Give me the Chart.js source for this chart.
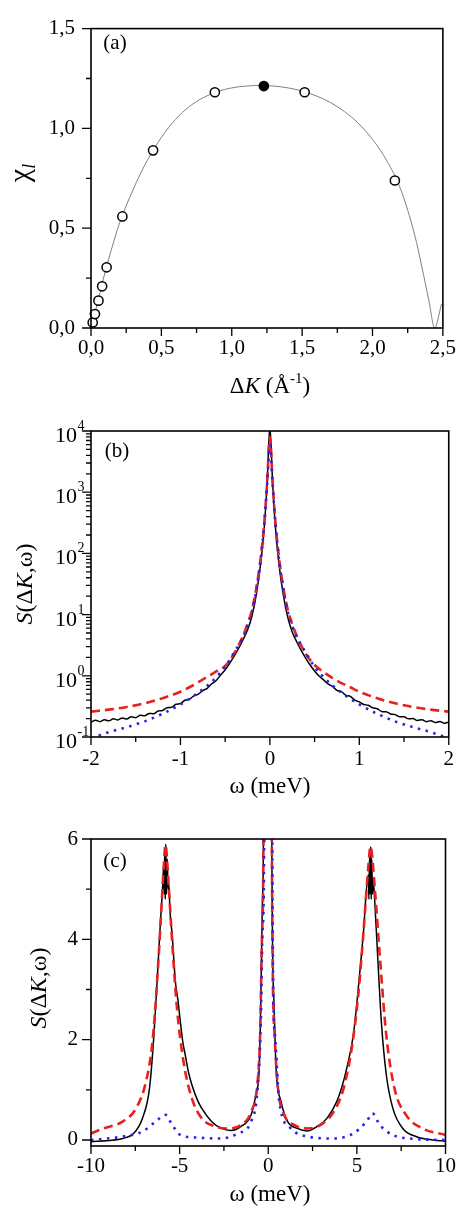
<!DOCTYPE html>
<html>
<head>
<meta charset="utf-8">
<script src="https://cdn.jsdelivr.net/npm/chart.js@4.4.1/dist/chart.umd.min.js"></script>
<style>
  html, body { margin: 0; padding: 0; background: #fff; }
  #wrap { position: relative; width: 464px; height: 1207px; overflow: hidden; }
  canvas { position: absolute; left: 0; }
</style>
</head>
<body>
<div id="wrap">
  <canvas id="chartA" width="464" height="405" style="top:0px"></canvas>
  <canvas id="chartB" width="464" height="400" style="top:405px"></canvas>
  <canvas id="chartC" width="464" height="402" style="top:805px"></canvas>
</div>
<script>
// ---- panel (a): chi_l vs delta K
const dkPoints = [0.012, 0.028, 0.053, 0.079, 0.111, 0.223, 0.441, 0.88, 1.518, 2.159];
const chiPoints = [0.028, 0.07, 0.137, 0.209, 0.304, 0.559, 0.89, 1.181, 1.181, 0.739];
const dkFilled = [1.228];
const chiFilled = [1.212];
const dkCurve = [0, 0.05, 0.1, 0.15, 0.2, 0.3, 0.4, 0.5, 0.6, 0.7, 0.8, 0.9, 1.0, 1.1, 1.2, 1.3, 1.4, 1.5, 1.6, 1.7, 1.8, 1.9, 2.0, 2.1, 2.2, 2.3, 2.4, 2.442, 2.49];
const chiCurve = [0, 0.135, 0.28, 0.405, 0.52, 0.695, 0.84, 0.955, 1.045, 1.11, 1.155, 1.185, 1.203, 1.212, 1.215, 1.212, 1.203, 1.187, 1.163, 1.13, 1.085, 1.025, 0.945, 0.84, 0.695, 0.465, 0.14, 0.0, 0.12];
const xTicksA = [0, 0.5, 1.0, 1.5, 2.0, 2.5];
const xMinorA = [0.25, 0.75, 1.25, 1.75, 2.25];
const yTicksA = [0, 0.5, 1.0, 1.5];
const yMinorA = [0.25, 0.75, 1.25];

// ---- panel (b): S(dK,w), log scale
const wBlackB = [-2.00,-1.95,-1.90,-1.85,-1.80,-1.75,-1.70,-1.65,-1.60,-1.55,-1.50,-1.45,-1.40,-1.35,-1.30,-1.25,-1.20,-1.15,-1.10,-1.05,-1.00,-0.95,-0.90,-0.85,-0.80,-0.75,-0.70,-0.65,-0.60,-0.55,-0.50,-0.45,-0.40,-0.35,-0.30,-0.25,-0.20,-0.15,-0.10,-0.06,-0.03,0,0.03,0.06,0.10,0.15,0.20,0.25,0.30,0.35,0.40,0.45,0.50,0.55,0.60,0.65,0.70,0.75,0.80,0.85,0.90,0.95,1.00,1.05,1.10,1.15,1.20,1.25,1.30,1.35,1.40,1.45,1.50,1.55,1.60,1.65,1.70,1.75,1.80,1.85,1.90,1.95,2.00];
const sBlackB = [0.175,0.188,0.178,0.192,0.184,0.198,0.190,0.205,0.196,0.214,0.207,0.226,0.222,0.243,0.240,0.266,0.272,0.300,0.305,0.343,0.352,0.398,0.415,0.470,0.500,0.575,0.625,0.740,0.840,1.03,1.25,1.60,2.10,2.80,3.90,5.60,9.5,22,75,300,1500,12000,1500,290,70,21,9,5.2,3.6,2.6,1.95,1.5,1.2,0.99,0.86,0.74,0.67,0.58,0.55,0.48,0.46,0.40,0.375,0.34,0.33,0.30,0.29,0.262,0.258,0.238,0.232,0.215,0.214,0.198,0.200,0.186,0.192,0.178,0.185,0.172,0.180,0.168,0.175];
const wFitB = [-2,-1.8,-1.6,-1.4,-1.2,-1.0,-0.9,-0.8,-0.7,-0.6,-0.5,-0.4,-0.3,-0.25,-0.2,-0.15,-0.1,-0.06,-0.03,0,0.03,0.06,0.1,0.15,0.2,0.25,0.3,0.4,0.5,0.6,0.7,0.8,0.9,1.0,1.2,1.4,1.6,1.8,2];
const sRedB = [0.26,0.28,0.31,0.355,0.43,0.55,0.65,0.79,0.96,1.18,1.45,2.3,4.5,7,12,28,90,350,1500,8000,1500,350,90,28,12,7,4.5,2.3,1.5,1.15,0.92,0.76,0.65,0.55,0.43,0.355,0.31,0.28,0.26];
const sBlueB = [0.095,0.12,0.145,0.18,0.24,0.34,0.42,0.53,0.69,0.95,1.4,2.4,4.3,6.5,11,26,85,330,1400,5900,1400,330,85,26,11,6.5,4.3,2.4,1.4,0.95,0.69,0.53,0.42,0.34,0.24,0.18,0.145,0.12,0.095];
const xTicksB = [-2, -1, 0, 1, 2];
const xMinorB = [-1.5, -0.5, 0.5, 1.5];
const yTicksB = [0.1, 1, 10, 100, 1000, 10000];
const yExpB = ['-1', '0', '1', '2', '3', '4'];

// ---- panel (c): S(dK,w), linear scale
const wBlackC = [-10,-9,-8.2,-7.6,-7.1,-6.7,-6.45,-6.25,-6.07,-5.95,-5.9,-5.87,-5.84,-5.81,-5.78,-5.74,-5.7,-5.65,-5.6,-5.55,-5.42,-5.24,-5.1,-4.96,-4.82,-4.68,-4.5,-4.31,-4.0,-3.75,-3.2,-2.64,-2.1,-1.53,-0.97,-0.7,-0.51,-0.42,-0.33,-0.27,0,0.2,0.32,0.44,0.72,1.09,1.64,2.2,2.76,3.31,3.87,4.15,4.43,4.8,5.08,5.36,5.64,5.68,5.72,5.75,5.78,5.81,5.84,5.88,5.92,6.01,6.19,6.38,6.66,7.03,7.59,8.33,9.27,10];
const sBlackC = [-0.03,-0.01,0.03,0.13,0.43,1.03,2.09,3.29,4.42,5.1,5.5,4.9,5.8,4.8,5.9,4.9,5.6,5.0,5.08,4.6,4.09,3.16,2.8,2.36,1.95,1.69,1.35,1.10,0.80,0.63,0.37,0.23,0.19,0.27,0.50,0.90,1.43,2.76,4.75,6.1,60,6.1,2.76,1.43,0.77,0.37,0.23,0.18,0.27,0.43,0.77,1.05,1.43,2.09,3.02,4.09,5.28,4.8,5.7,4.9,5.85,4.8,5.6,4.9,5.2,4.75,3.55,2.36,1.30,0.63,0.23,0.07,0.0,-0.02];
const wRedC = [-10,-9.3,-8.2,-7.46,-6.9,-6.53,-6.26,-6.07,-5.89,-5.8,-5.61,-5.42,-5.15,-4.78,-4.31,-3.75,-3.0,-2.27,-1.53,-0.97,-0.6,-0.46,-0.35,-0.27,0,0.2,0.36,0.55,0.9,1.46,2.2,2.95,3.69,4.25,4.71,5.08,5.36,5.64,5.77,6.01,6.29,6.66,7.12,7.77,8.7,10];
const sRedC = [0.13,0.23,0.37,0.63,1.16,1.96,3.22,4.35,5.48,5.88,5.02,3.95,2.63,1.56,0.83,0.43,0.27,0.23,0.30,0.56,1.16,2.09,4.09,6.1,60,6.1,2.09,1.03,0.5,0.30,0.23,0.30,0.56,1.03,1.83,2.89,4.09,5.42,5.85,5.02,3.69,2.09,1.03,0.50,0.23,0.1];
const wBlueC = [-10,-8.2,-7.09,-6.35,-5.8,-5.42,-4.96,-4.13,-2.64,-1.71,-0.97,-0.6,-0.42,-0.33,-0.23,0,0.25,0.38,0.62,1.27,2.2,3.69,4.8,5.55,5.88,6.29,7.03,8.33,10];
const sBlueC = [0.0,0.07,0.17,0.37,0.5,0.3,0.1,0.05,0.03,0.13,0.37,1.03,2.36,4.09,5.88,60,4.09,2.09,0.77,0.23,0.07,0.03,0.13,0.37,0.53,0.30,0.10,0.02,0.0];
const xTicksC = [-10, -5, 0, 5, 10];
const xMinorC = [-7.5, -2.5, 2.5, 7.5];
const yTicksC = [0, 2, 4, 6];
const yMinorC = [1, 3, 5];

const SERIF = '"Liberation Serif", "Times New Roman", serif';
const RED = '#e8201e';
const BLUE = '#2424e6';

const pts = (xs, ys) => xs.map((x, i) => ({ x: x, y: ys[i] }));
const comma = v => v.toFixed(1).replace('.', ',');
const f = (size, style) => (style ? style + ' ' : '') + size + 'px ' + SERIF;

// log minor ticks 2..9 x 10^n
const yMinorB = [];
[0.1, 1, 10, 100, 1000].forEach(d => {
  for (let k = 2; k <= 9; k++) yMinorB.push(d * k);
});

function drawRich(ctx, parts, x, y, rot) {
  ctx.save();
  ctx.translate(x, y);
  if (rot) ctx.rotate(rot);
  let w = 0;
  parts.forEach(p => { ctx.font = p.f; p.w = ctx.measureText(p.t).width; w += p.w; });
  let cx = -w / 2;
  ctx.fillStyle = '#000';
  ctx.textAlign = 'left';
  ctx.textBaseline = 'alphabetic';
  parts.forEach(p => { ctx.font = p.f; ctx.fillText(p.t, cx, p.dy || 0); cx += p.w; });
  ctx.restore();
}

function axesPlugin(t) {
  return {
    id: 'axesPlugin',
    afterDraw(chart) {
      const ctx = chart.ctx, a = chart.chartArea;
      const sx = chart.scales.x, sy = chart.scales.y;
      ctx.save();
      ctx.strokeStyle = '#000';
      ctx.lineWidth = 1.6;
      ctx.strokeRect(a.left, a.top, a.right - a.left, a.bottom - a.top);
      ctx.lineWidth = 1.3;
      ctx.beginPath();
      t.xMajor.forEach(v => { const p = sx.getPixelForValue(v); ctx.moveTo(p, a.bottom); ctx.lineTo(p, a.bottom + 8); });
      t.xMinor.forEach(v => { const p = sx.getPixelForValue(v); ctx.moveTo(p, a.bottom); ctx.lineTo(p, a.bottom + 5); });
      t.yMajor.forEach(v => { const p = sy.getPixelForValue(v); ctx.moveTo(a.left, p); ctx.lineTo(a.left - 9, p); });
      t.yMinor.forEach(v => { const p = sy.getPixelForValue(v); ctx.moveTo(a.left, p); ctx.lineTo(a.left - 5, p); });
      ctx.stroke();
      ctx.restore();
      t.texts.forEach(tx => drawRich(ctx, tx.parts, tx.x, tx.y, tx.rot));
      if (t.extra) t.extra(chart);
    }
  };
}

function options(o) {
  return {
    responsive: false,
    animation: false,
    devicePixelRatio: 1,
    layout: { autoPadding: false, padding: { top: o.top, right: 14, bottom: 0, left: 0 } },
    plugins: { legend: { display: false }, tooltip: { enabled: false } },
    scales: {
      x: {
        type: 'linear', min: o.xMin, max: o.xMax,
        afterBuildTicks: s => { s.ticks = o.xTicks.map(v => ({ value: v })); },
        afterFit: s => { s.height = o.xH; },
        grid: { display: false, drawTicks: false },
        border: { display: false },
        ticks: { padding: o.xPad || 8, color: '#000', font: { family: SERIF, size: 21 }, maxRotation: 0, callback: o.xFmt }
      },
      y: {
        type: o.yType || 'linear', min: o.yMin, max: o.yMax,
        afterBuildTicks: s => { s.ticks = o.yTicks.map(v => ({ value: v })); },
        afterFit: s => { s.width = 91; },
        grid: { display: false, drawTicks: false },
        border: { display: false },
        ticks: { display: o.yLabels !== false, padding: o.yPad || 15, color: '#000', font: { family: SERIF, size: 21 }, callback: o.yFmt }
      }
    }
  };
}

const lineBlack = (data) => ({ data: data, showLine: true, borderColor: '#000', borderWidth: 1.5, pointRadius: 0, cubicInterpolationMode: 'monotone', order: 3 });
const lineRed = (data) => ({ data: data, showLine: true, borderColor: RED, borderWidth: 2.6, borderDash: [9, 5], pointRadius: 0, cubicInterpolationMode: 'monotone', order: 2 });
const lineBlue = (data) => ({ data: data, showLine: true, borderColor: BLUE, borderWidth: 2.6, borderDash: [2.5, 5.5], pointRadius: 0, cubicInterpolationMode: 'monotone', order: 1 });

// ---- chart (a)
new Chart(document.getElementById('chartA'), {
  type: 'scatter',
  data: {
    datasets: [
      { data: pts(dkCurve, chiCurve), showLine: true, borderColor: '#808080', borderWidth: 1, pointRadius: 0, cubicInterpolationMode: 'monotone', order: 3 },
      { data: pts(dkPoints, chiPoints), showLine: false, pointRadius: 4.6, pointBorderWidth: 1.5, pointBorderColor: '#000', pointBackgroundColor: '#fff', clip: false, order: 1 },
      { data: pts(dkFilled, chiFilled), showLine: false, pointRadius: 4.6, pointBorderWidth: 1.5, pointBorderColor: '#000', pointBackgroundColor: '#000', clip: false, order: 1 }
    ]
  },
  options: options({ top: 23, xH: 77, xMin: 0, xMax: 2.5, yMin: 0, yMax: 1.5, xTicks: xTicksA, yTicks: yTicksA, xFmt: v => comma(v), yFmt: v => comma(v), yPad: 16 }),
  plugins: [axesPlugin({
    xMajor: xTicksA, xMinor: xMinorA, yMajor: yTicksA, yMinor: yMinorA,
    texts: [
      { parts: [{ t: '(a)', f: f(21) }], x: 115, y: 49 },
      { parts: [{ t: 'Δ', f: f(23) }, { t: 'K', f: f(23, 'italic') }, { t: ' (Å', f: f(23) }, { t: '-1', f: f(15), dy: -10 }, { t: ')', f: f(23) }], x: 270, y: 393 },
      { parts: [{ t: 'χ', f: f(30) }, { t: 'l', f: f(18, 'italic'), dy: 6 }], x: 29, y: 173, rot: -Math.PI / 2 }
    ]
  })]
});

// ---- chart (b)
new Chart(document.getElementById('chartB'), {
  type: 'scatter',
  data: {
    datasets: [
      lineBlack(pts(wBlackB, sBlackB)),
      lineRed(pts(wFitB, sRedB)),
      lineBlue(pts(wFitB, sBlueB))
    ]
  },
  options: options({ top: 26, xH: 68, xPad: 10, xMin: -2, xMax: 2, yType: 'logarithmic', yMin: 0.1, yMax: 10000, xTicks: xTicksB, yTicks: yTicksB, xFmt: v => String(v), yLabels: false }),
  plugins: [axesPlugin({
    xMajor: xTicksB, xMinor: xMinorB, yMajor: yTicksB, yMinor: yMinorB,
    texts: [
      { parts: [{ t: '(b)', f: f(21) }], x: 117, y: 52 },
      { parts: [{ t: 'ω (meV)', f: f(23) }], x: 270, y: 388 },
      { parts: [{ t: 'S', f: f(24, 'italic') }, { t: '(Δ', f: f(24) }, { t: 'K', f: f(24, 'italic') }, { t: ',ω)', f: f(24) }], x: 32, y: 179, rot: -Math.PI / 2 }
    ],
    extra: chart => {
      const ctx = chart.ctx, sy = chart.scales.y;
      ctx.save();
      ctx.fillStyle = '#000';
      ctx.textBaseline = 'alphabetic';
      yTicksB.forEach((v, i) => {
        const p = sy.getPixelForValue(v);
        ctx.font = f(22);
        ctx.textAlign = 'right';
        ctx.fillText('10', 77, p + 11);
        ctx.font = f(14);
        ctx.textAlign = 'left';
        ctx.fillText(yExpB[i], 77.5, p - 1);
      });
      ctx.restore();
    }
  })]
});

// ---- chart (c)
new Chart(document.getElementById('chartC'), {
  type: 'scatter',
  data: {
    datasets: [
      lineBlack(pts(wBlackC, sBlackC)),
      lineRed(pts(wRedC, sRedC)),
      lineBlue(pts(wBlueC, sBlueC))
    ]
  },
  options: options({ top: 34, xH: 61, xMin: -10, xMax: 10, yMin: -0.12, yMax: 6, xTicks: xTicksC, yTicks: yTicksC, xFmt: v => String(v), yFmt: v => String(v), yPad: 13 }),
  plugins: [axesPlugin({
    xMajor: xTicksC, xMinor: xMinorC, yMajor: yTicksC, yMinor: yMinorC,
    texts: [
      { parts: [{ t: '(c)', f: f(21) }], x: 115, y: 62 },
      { parts: [{ t: 'ω (meV)', f: f(23) }], x: 270, y: 396 },
      { parts: [{ t: 'S', f: f(24, 'italic') }, { t: '(Δ', f: f(24) }, { t: 'K', f: f(24, 'italic') }, { t: ',ω)', f: f(24) }], x: 46, y: 183, rot: -Math.PI / 2 }
    ]
  })]
});
</script>
</body>
</html>
